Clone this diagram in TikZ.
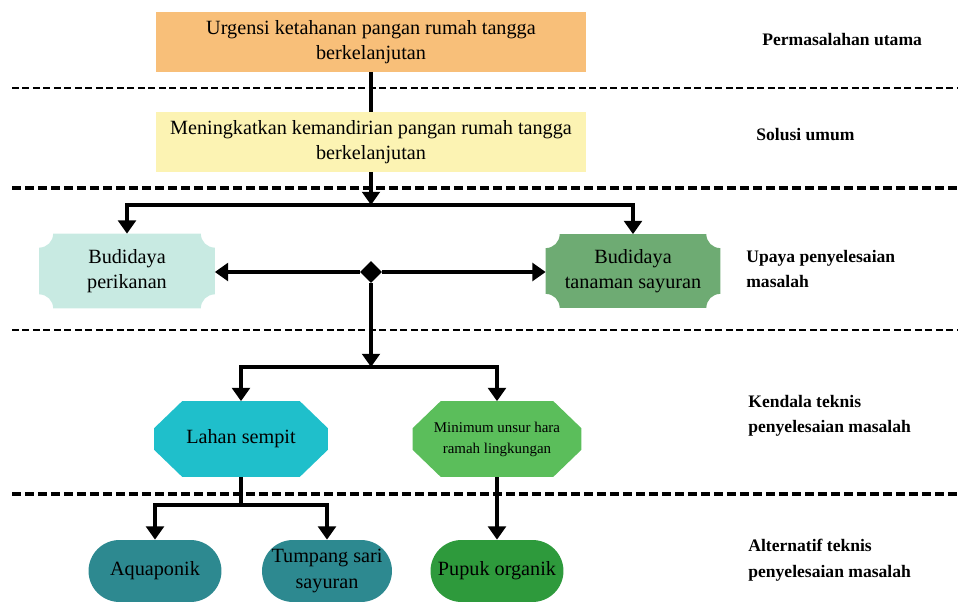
\documentclass[tikz,border=0pt]{standalone}
\usepackage{fontspec}
\setmainfont{Liberation Serif}
\usetikzlibrary{arrows.meta,calc,shapes.geometric,shapes.misc,backgrounds}
\definecolor{urgOrange}{HTML}{F8BF79}
\definecolor{solYellow}{HTML}{FCF3B3}
\definecolor{ikanMint}{HTML}{C8EAE2}
\definecolor{sayurGreen}{HTML}{6EAB73}
\definecolor{lahanCyan}{HTML}{1FBFCB}
\definecolor{haraGreen}{HTML}{5BBE5B}
\definecolor{altTeal}{HTML}{2D8990}
\definecolor{pupukGreen}{HTML}{2E9A3C}

% ticket box: rectangle with concave corners
\newcommand{\ticketfill}[2]{%
  \fill[#2] ($(#1.north west)+(14,0)$) -- ($(#1.north east)+(-14,0)$)
    arc[start angle=180,end angle=270,radius=0.28cm]
    -- ($(#1.south east)+(0,14)$)
    arc[start angle=90,end angle=180,radius=0.28cm]
    -- ($(#1.south west)+(14,0)$)
    arc[start angle=0,end angle=90,radius=0.28cm]
    -- ($(#1.north west)+(0,-14)$)
    arc[start angle=270,end angle=360,radius=0.28cm] -- cycle;}
% octagon box with cut corners
\newcommand{\octfill}[2]{%
  \fill[#2] ($(#1.north west)+(28,0)$) -- ($(#1.north east)+(-28,0)$)
    -- ($(#1.north east)+(0,-27)$) -- ($(#1.south east)+(0,27)$)
    -- ($(#1.south east)+(-28,0)$) -- ($(#1.south west)+(28,0)$)
    -- ($(#1.south west)+(0,27)$) -- ($(#1.north west)+(0,-27)$) -- cycle;}

\begin{document}
\begin{tikzpicture}[x=0.02cm,y=0.02cm,
  topbox/.style={rectangle,minimum width=8.6cm,minimum height=1.2cm,align=center,inner sep=0pt,font=\fontsize{11.5}{14.5}\selectfont},
  shapebox/.style={rectangle,inner sep=0pt,align=center,font=\fontsize{11.5}{14.5}\selectfont},
  pill/.style={rounded rectangle,minimum width=2.66cm,minimum height=1.24cm,inner sep=0pt,align=center,font=\fontsize{11.5}{14.5}\selectfont},
  side/.style={anchor=west,align=left,inner sep=0pt,font=\bfseries\fontsize{10}{14.5}\selectfont},
  arr/.style={line width=2.2pt,-{Triangle[width=10pt,length=7.5pt]}},
  link/.style={line width=2.2pt},
  sepA/.style={line width=1.3pt,dash pattern=on 0.14cm off 0.07cm},
  sepB/.style={line width=2pt,dash pattern=on 0.18cm off 0.08cm}]
  \useasboundingbox (0,0) rectangle (958,-612);

  % separators
  \draw[sepA] (12,-88) -- (958,-88);
  \draw[sepB] (12,-188) -- (958,-188);
  \draw[sepA] (12,-330) -- (958,-330);
  \draw[sepB] (12,-494) -- (958,-494);

  % boxes
  \node[topbox,fill=urgOrange] (urg) at (371,-42) {Urgensi ketahanan pangan rumah tangga\\berkelanjutan};
  \node[topbox,fill=solYellow] (sol) at (371,-142) {Meningkatkan kemandirian pangan rumah tangga\\berkelanjutan};
  \node[shapebox,minimum width=3.5cm,minimum height=1.48cm] (ikan) at (127,-271) {Budidaya\\perikanan};
  \node[shapebox,minimum width=3.48cm,minimum height=1.46cm] (sayur) at (633,-271) {Budidaya\\tanaman sayuran};
  \node[diamond,fill=black,inner sep=0pt,minimum size=0.44cm] (hub) at (371,-272) {};
  \node[shapebox,minimum width=3.46cm,minimum height=1.5cm] (lahan) at (241,-439) {Lahan sempit};
  \node[shapebox,minimum width=3.36cm,minimum height=1.5cm,font=\fontsize{8.5}{12}\selectfont] (hara) at (497,-439) {Minimum unsur hara\\ramah lingkungan};
  \node[pill,fill=altTeal] (aqua) at (155,-571) {Aquaponik};
  \node[pill,fill=altTeal,minimum width=2.6cm] (tump) at (327,-571) {Tumpang sari\\sayuran};
  \node[pill,fill=pupukGreen] (pupuk) at (497,-571) {Pupuk organik};

  \begin{pgfonlayer}{background}
    \ticketfill{ikan}{ikanMint}
    \ticketfill{sayur}{sayurGreen}
    \octfill{lahan}{lahanCyan}
    \octfill{hara}{haraGreen}
  \end{pgfonlayer}

  % connectors
  \coordinate (j1) at (371,-205);
  \coordinate (j2) at (371,-367);
  \coordinate (j3) at (241,-505);
  \draw[link] (urg.south) -- (sol.north);
  \draw[arr] (sol.south) -- (j1);
  \draw[arr] (j1) -| (ikan.north);
  \draw[arr] (j1) -| (sayur.north);
  \draw[arr] (hub) -- (ikan.east |- hub);
  \draw[arr] (hub) -- (sayur.west |- hub);
  \draw[arr] (hub.south) -- (j2);
  \draw[arr] (j2) -| (lahan.north);
  \draw[arr] (j2) -| (hara.north);
  \draw[link] (lahan.south) -- (j3);
  \draw[arr] (j3) -| (aqua.north);
  \draw[arr] (j3) -| (tump.north);
  \draw[arr] (hara.south) -- (pupuk.north);

  % levels
  \node[side] (lv1) at (762,-40) {Permasalahan utama};
  \node[side] (lv2) at (756,-135) {Solusi umum};
  \node[side] (lv3) at (746,-269) {Upaya penyelesaian\\masalah};
  \node[side] (lv4) at (748,-416) {Kendala teknis\\penyelesaian masalah};
  \node[side] (lv5) at (748,-560) {Alternatif teknis\\penyelesaian masalah};
\end{tikzpicture}
\end{document}
